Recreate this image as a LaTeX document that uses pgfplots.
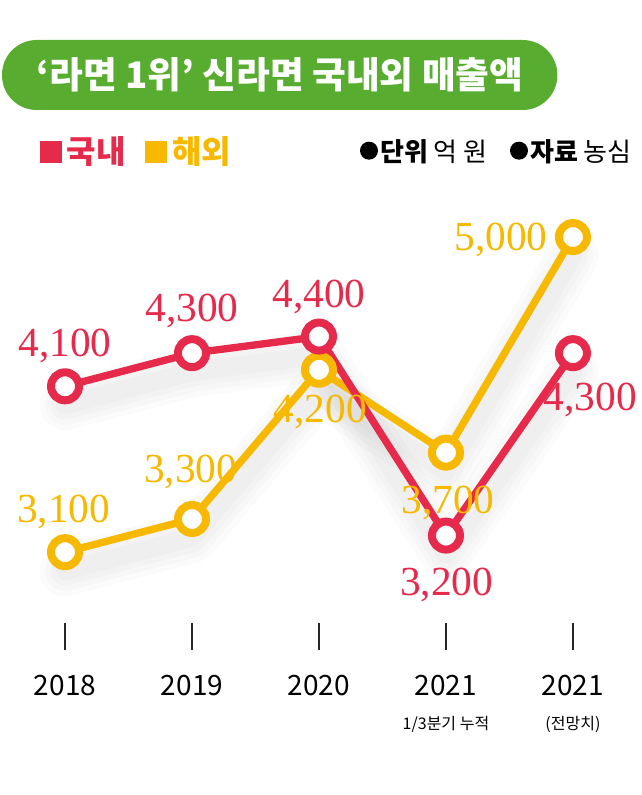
\documentclass[border=0pt]{standalone}
\usepackage{fontspec}
\usepackage{pgfplots}
\usepackage{pgfplotstable}
\pgfplotsset{compat=1.18}
\setmainfont{Noto Sans CJK KR}
\newfontfamily\numfont{Liberation Serif}
\definecolor{nred}{HTML}{E52A4B}
\definecolor{nyel}{HTML}{F6B900}
\definecolor{ngreen}{HTML}{58AC30}

% domestic (국내); dx, dy = label offset in pt
\pgfplotstableread{
x  y     dx   dy
0  4100  0    30
1  4300  0    32
2  4400  0    30
3  3200  0.5  -37
4  4300  13   -35
}\dom
% overseas (해외)
\pgfplotstableread{
x  y     dx   dy
0  3100  -1   30
1  3300  -1   35
2  4200  1    -32
3  3700  1.5  -38
4  5000  -54  -2
}\ovs

\pgfplotsset{shadow/.style={no marks, black, opacity=0.015, line join=round, line cap=round, yshift=-14pt}}

\begin{document}
\begin{tikzpicture}
\fill[white] (0,0) rectangle (480pt,-596.25pt);
% title pill
\fill[ngreen, rounded corners=26pt] (1.5pt,-30pt) rectangle (418pt,-82.5pt);
\node[white, font=\fontsize{27.5}{27.5}\selectfont\bfseries] at (210pt,-56.25pt) {‘라면 1위’ 신라면 국내외 매출액};
% legend
\fill[nred] (30pt,-105.75pt) rectangle (46.5pt,-122.25pt);
\node[anchor=west, inner sep=0pt, nred, font=\fontsize{24}{24}\selectfont\bfseries] at (50pt,-114pt) {국내};
\fill[nyel] (108.75pt,-105.75pt) rectangle (125.25pt,-122.25pt);
\node[anchor=west, inner sep=0pt, nyel, font=\fontsize{24}{24}\selectfont\bfseries] at (129pt,-114pt) {해외};
\fill[black] (276.75pt,-113pt) circle (6.75pt);
\node[anchor=west, inner sep=0pt, font=\fontsize{19.5}{19.5}\selectfont] at (285pt,-114pt) {{\bfseries 단위} 억 원};
\fill[black] (389.25pt,-113pt) circle (6.75pt);
\node[anchor=west, inner sep=0pt, font=\fontsize{19.5}{19.5}\selectfont] at (397.5pt,-114pt) {{\bfseries 자료} 농심};

\begin{axis}[
  at={(0pt,-487.5pt)}, anchor=south west,
  scale only axis, width=480pt, height=352.5pt,
  xmin=-0.512, xmax=4.528, ymin=2510, ymax=5344,
  axis line style={draw=none},
  ytick=\empty,
  xtick={0,1,2,3,4},
  xticklabels={2018,2019,2020,{2021\\{\fontsize{12}{14}\selectfont 1/3분기 누적}},{2021\\{\fontsize{12}{14}\selectfont (전망치)}}},
  xtick pos=bottom, xtick align=inside,
  major tick length=20pt,
  every tick/.style={black!85, line width=1.1pt},
  xticklabel style={align=center, font=\fontsize{21}{26}\selectfont, yshift=-15pt},
  clip=false,
  /pgf/number format/.cd, 1000 sep={,}, assume math mode=true,
]
% soft shadows
\addplot[shadow, line width=38pt] table[x=x,y=y] {\ovs};
\addplot[shadow, line width=30pt] table[x=x,y=y] {\ovs};
\addplot[shadow, line width=22pt] table[x=x,y=y] {\ovs};
\addplot[shadow, line width=14pt] table[x=x,y=y] {\ovs};
\addplot[shadow, line width=38pt] table[x=x,y=y] {\dom};
\addplot[shadow, line width=30pt] table[x=x,y=y] {\dom};
\addplot[shadow, line width=22pt] table[x=x,y=y] {\dom};
\addplot[shadow, line width=14pt] table[x=x,y=y] {\dom};
% value labels (under the lines)
\addplot[draw=none, no marks, nodes near coords,
  visualization depends on={\thisrow{dx}\as\dx},
  visualization depends on={\thisrow{dy}\as\dy},
  nodes near coords style={anchor=center, xshift=\dx pt, yshift=\dy pt, text=nyel, font=\numfont\fontsize{31}{31}\selectfont}]
  table[x=x,y=y] {\ovs};
\addplot[draw=none, no marks, nodes near coords,
  visualization depends on={\thisrow{dx}\as\dx},
  visualization depends on={\thisrow{dy}\as\dy},
  nodes near coords style={anchor=center, xshift=\dx pt, yshift=\dy pt, text=nred, font=\numfont\fontsize{31}{31}\selectfont}]
  table[x=x,y=y] {\dom};
% lines
\addplot[nyel, line width=5.5pt, line join=round, mark=*, mark size=10.5pt,
  mark options={fill=white, draw=nyel, line width=6pt}] table[x=x,y=y] {\ovs};
\addplot[nred, line width=5.5pt, line join=round, mark=*, mark size=10.5pt,
  mark options={fill=white, draw=nred, line width=6pt}] table[x=x,y=y] {\dom};
\end{axis}
\end{tikzpicture}
\end{document}
